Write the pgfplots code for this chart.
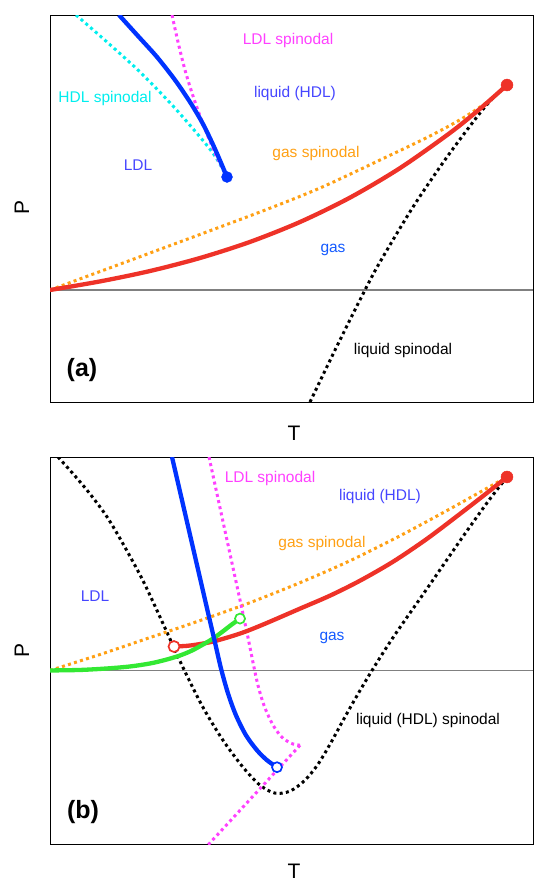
\documentclass[border=0pt]{standalone}
\usepackage{pgfplots}
\pgfplotsset{compat=1.18}
\usepackage{fontspec}
\setmainfont{Liberation Sans}
\definecolor{cred}{RGB}{238,50,40}
\definecolor{cblue}{RGB}{0,51,255}
\definecolor{ccyan}{RGB}{0,238,238}
\definecolor{cmag}{RGB}{255,64,255}
\definecolor{corange}{RGB}{255,160,20}
\definecolor{cgreen}{RGB}{51,232,51}
\definecolor{clab}{RGB}{70,70,255}
\definecolor{cgas}{RGB}{20,90,255}
\tikzset{
  dotl/.style={line width=3pt, dash pattern=on 3pt off 3.3pt},
  thickline/.style={line width=4.3pt},
  lab/.style={font=\fontsize{15.5}{18}\selectfont, inner sep=0pt},
}
\begin{document}
\begin{tikzpicture}[x=1pt,y=1pt]
\useasboundingbox (0,0) rectangle (534,-881);
\pgfplotsset{
  panel/.style={scale only axis, width=483pt, height=387pt,
    xmin=50, xmax=533, y dir=reverse, xtick=\empty, ytick=\empty,
    axis line style={black, line width=0.9pt}, anchor=south west},
}
% ---------------- panel (a)
\begin{axis}[panel, at={(50pt,-402pt)}, ymin=15, ymax=402]
\addplot[gray, line width=1.2pt] coordinates {(50,290) (533,290)};
% liquid spinodal
\addplot[black, dotl, smooth] coordinates {(310,402) (337,346) (365,290) (380,262) (413,207) (447,157) (480,113) (494,97) (507,85)};
% gas spinodal
\addplot[corange, dotl, smooth] coordinates {(50,290) (150,253) (260,212) (320,188) (380,160) (430,136) (463,118) (490,100) (507,85)};
% coexistence
\addplot[cred, thickline, smooth] coordinates {(50,290) (100,281.4) (150,271) (200,258) (250,241.9) (300,222) (350,197.6) (400,168.1) (450,132.9) (480,108.8) (507,85)};
% HDL spinodal
\addplot[ccyan, dotl, smooth] coordinates {(76,15) (107,42) (140,72) (173,106) (200,137) (215,156) (227,177)};
% LDL spinodal
\addplot[cmag, dotl, smooth] coordinates {(172,15) (178,42) (185,70) (193,96) (203,124) (215,153) (227,177)};
% LDL-HDL coexistence
\addplot[cblue, thickline, smooth] coordinates {(119,15) (138,36) (157,57) (175,80) (190,102) (203,124) (215,149) (227,177)};
\addplot[only marks, mark=*, mark size=6pt, cred] coordinates {(507,85)};
\addplot[only marks, mark=*, mark size=5.5pt, cblue] coordinates {(227,177)};
\node[lab, text=cmag] at (axis cs:288,40) {LDL spinodal};
\node[lab, text=ccyan] at (axis cs:105,98) {HDL spinodal};
\node[lab, text=clab] at (axis cs:295,93) {liquid (HDL)};
\node[lab, text=clab] at (axis cs:138,165) {LDL};
\node[lab, text=corange] at (axis cs:316,153) {gas spinodal};
\node[lab, text=cgas] at (axis cs:333,250) {gas};
\node[lab, text=black] at (axis cs:403,350) {liquid spinodal};
\node[inner sep=0pt, font=\fontsize{25}{30}\selectfont\bfseries] at (axis cs:82,370) {(a)};
\end{axis}
% ---------------- panel (b)
\begin{axis}[panel, at={(50pt,-844pt)}, ymin=456, ymax=844]
\addplot[gray, line width=1.2pt] coordinates {(50,670) (533,670)};
% liquid (HDL) spinodal
\addplot[black, dotl, smooth] coordinates {(58,456) (75,475) (90,493) (107,516) (123,543) (143,580) (163,623) (183,667) (203,707) (223,740) (243,767) (260,785) (275,793) (290,791) (305,780) (318,764) (330,744) (342,722) (356,697) (372,670) (393,637) (427,588) (460,540) (487,502) (507,476)};
% gas spinodal
\addplot[corange, dotl, smooth] coordinates {(50,670) (100,654) (150,637) (200,620) (250,602) (300,582) (350,560) (400,535) (450,508) (507,476)};
% LDL spinodal
\addplot[cmag, dotl, smooth] coordinates {(209,456) (217,493) (225,530) (233,567) (241,604) (248,637) (253,662) (258,685) (264,705) (272,723) (281,736) (291,743) (300,745)};
\addplot[cmag, dotl] coordinates {(300,745) (208,845)};
% coexistence gas-liquid
\addplot[cred, thickline, smooth] coordinates {(174,646) (190,645) (213,641) (240,633) (263,624) (300,608) (330,595) (360,580) (393,561) (427,538) (460,513) (487,492) (507,476)};
% green
\addplot[cgreen, thickline, smooth] coordinates {(49,670) (80,669.5) (107,668) (130,666) (150,663) (165,659.5) (180,655) (192,650) (203,644) (213,638) (222,631.5) (231,624.5) (240,618)};
% LDL-HDL coexistence
\addplot[cblue, thickline, smooth] coordinates {(172,456) (181,495) (190,534) (199,573) (208,612) (215,642) (221,668) (228,693) (236,715) (246,735) (257,750) (267,760) (277,767)};
\addplot[only marks, mark=*, mark size=6pt, cred] coordinates {(507,476)};
\addplot[only marks, mark=*, mark size=5.5pt, mark options={draw=cred, fill=white, line width=1.7pt}] coordinates {(174,646)};
\addplot[only marks, mark=*, mark size=5pt, mark options={draw=cgreen, fill=white, line width=1.7pt}] coordinates {(240,618)};
\addplot[only marks, mark=*, mark size=5pt, mark options={draw=cblue, fill=white, line width=1.7pt}] coordinates {(277,767)};
\node[lab, text=cmag] at (axis cs:270,478) {LDL spinodal};
\node[lab, text=clab] at (axis cs:380,496) {liquid (HDL)};
\node[lab, text=corange] at (axis cs:322,543) {gas spinodal};
\node[lab, text=clab] at (axis cs:95,596) {LDL};
\node[lab, text=cgas] at (axis cs:332,637) {gas};
\node[lab, text=black] at (axis cs:428,720) {liquid (HDL) spinodal};
\node[inner sep=0pt, font=\fontsize{25}{30}\selectfont\bfseries] at (axis cs:83,812) {(b)};
\end{axis}
\node[font=\fontsize{21}{25}\selectfont, inner sep=0pt] at (294,-433) {T};
\node[font=\fontsize{21}{25}\selectfont, inner sep=0pt] at (294,-871) {T};
\node[font=\fontsize{21}{25}\selectfont, inner sep=0pt, rotate=90] at (22,-207) {P};
\node[font=\fontsize{21}{25}\selectfont, inner sep=0pt, rotate=90] at (22,-650) {P};
\end{tikzpicture}
\end{document}
